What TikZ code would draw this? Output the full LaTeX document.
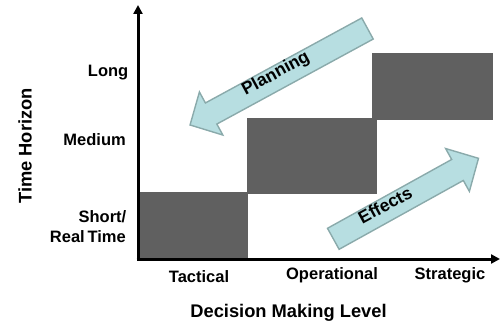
\documentclass[tikz,border=0pt]{standalone}
\usepackage{fontspec}
\setmainfont{Liberation Sans}
\usetikzlibrary{arrows.meta}
\definecolor{boxgray}{HTML}{606060}
\definecolor{arrfill}{HTML}{B7DEE1}
\definecolor{arrdraw}{HTML}{8AAAAB}
\tikzset{
  level/.style={fill=boxgray, draw=none},
  axis/.style={line width=3pt, -{Triangle[length=9pt,width=9pt]}},
  bigarrow/.style={fill=arrfill, draw=arrdraw, line width=1.4pt, line join=miter},
  lab/.style={font=\fontsize{16.5}{19.8}\selectfont\bfseries, inner sep=0pt},
  arrlab/.style={font=\fontsize{17.5}{21}\selectfont\bfseries, inner sep=0pt},
  ttl/.style={font=\fontsize{18.3}{22}\selectfont\bfseries, inner sep=0pt},
}
\begin{document}
\begin{tikzpicture}[x=1pt, y=-1pt]
\useasboundingbox (0,0) rectangle (500,321);
% level boxes
\fill[level] (139,192) rectangle (248,259);
\fill[level] (247,118) rectangle (377,194);
\fill[level] (372,53) rectangle (493,120);
% axes
\coordinate (o) at (138,259);
\coordinate (ytop) at (138,5);
\coordinate (xend) at (500,259);
\draw[axis] (138,260.5) -- (ytop);
\draw[axis] (136.5,259) -- (xend);
% Planning arrow (tail at upper right, tip at lower left)
\begin{scope}[shift={(367.5,28.5)}, rotate=208.53]
  \draw[bigarrow] (0,-12) -- (178,-12) -- (178,-24.5) -- (202,0) -- (178,24.5) -- (178,12) -- (0,12) -- cycle;
\end{scope}
% Effects arrow (tail lower left, tip upper right)
\begin{scope}[shift={(333.3,238.8)}, rotate=29.0]
  \draw[bigarrow] (0,-12) -- (142,-12) -- (142,-24.5) -- (166,0) -- (142,24.5) -- (142,12) -- (0,12) -- cycle;
\end{scope}
\node[arrlab, rotate=28.5] (planning) at (276,74) {Planning};
\node[arrlab, rotate=28.5] (effects) at (385,205) {Effects};
% y labels
\node[lab, anchor=base east] (long) at (128.5,77) {Long};
\node[lab, anchor=base east] (medium) at (126,145.5) {Medium};
\node[lab, anchor=base east] (short) at (126.5,222.5) {Short/};
\node[lab, anchor=base east] (realtime) at (126,242.3) {Real\,Time};
% x labels
\node[lab, anchor=base] (tactical) at (199,282.7) {Tactical};
\node[lab, anchor=base] (operational) at (332,279.3) {Operational};
\node[lab, anchor=base] (strategic) at (450,279.3) {Strategic};
% titles
\node[ttl, anchor=base] (xtitle) at (288.5,317.3) {Decision Making Level};
\node[ttl, rotate=90, anchor=base] (ytitle) at (31.5,146) {Time Horizon};
\end{tikzpicture}
\end{document}
